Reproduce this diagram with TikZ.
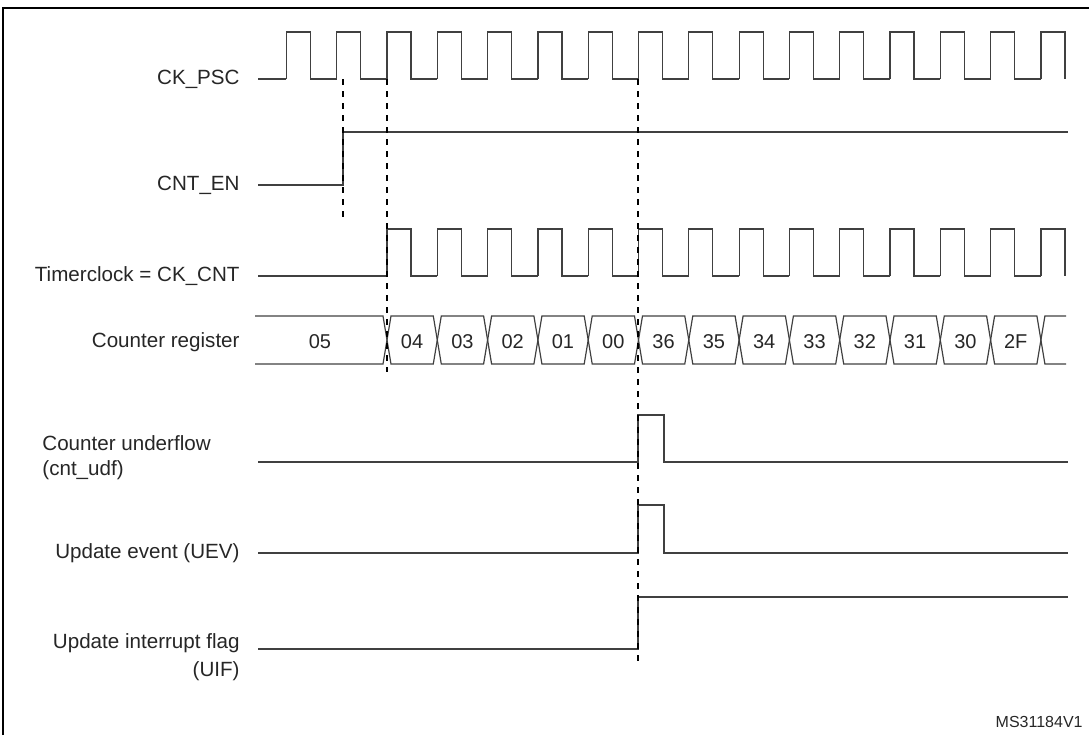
\documentclass[tikz,border=0pt]{standalone}
\usepackage{fontspec}
\setmainfont{Liberation Sans}
\begin{document}
\begin{tikzpicture}[x=0.5pt,y=-0.5pt,
    sig/.style={line width=0.6pt,black!75},
    guide/.style={dashed,line width=0.6pt,black},
    lbl/.style={font=\fontsize{10.3}{12}\selectfont,inner sep=0pt,text=black!85},
    val/.style={font=\fontsize{10}{12}\selectfont,inner sep=0pt,text=black!85}]
    \useasboundingbox (0,0) rectangle (1089,735);
    \draw[line width=1pt] (3,735) -- (3,8) -- (1089,8);

    % labels
    \node[lbl,anchor=east] (psc) at (240,79) {CK\_PSC};
    \node[lbl,anchor=east] (en) at (240,185) {CNT\_EN};
    \node[lbl,anchor=east] (cnt) at (240,276) {Timerclock = CK\_CNT};
    \node[lbl,anchor=east] (reg) at (240,342) {Counter register};
    \node[lbl,anchor=west] (udf) at (42,443) {Counter underflow};
    \node[lbl,anchor=west] (udfb) at (42,470) {(cnt\_udf)};
    \node[lbl,anchor=east] (uev) at (240,553) {Update event (UEV)};
    \node[lbl,anchor=east] (uif) at (240,643) {Update interrupt flag};
    \node[lbl,anchor=east] (uifb) at (240,671) {(UIF)};
    \node[lbl,anchor=east,font=\fontsize{8}{9}\selectfont] (ref) at (1083,722) {MS31184V1};

    % CK_PSC
    \draw[sig] (258,79) -- ({387-2*50.3},79);
    \foreach \k in {-2,...,13}{
        \pgfmathsetmacro\a{387+50.3*\k}
        \draw[sig] (\a,79) -- (\a,32) -- (\a+24,32) -- (\a+24,79)
            \ifnum\k<13 -- (\a+50.3,79)\fi;
    }
    % CNT_EN
    \draw[sig] (258,185) -- (343,185) -- (343,132) -- (1068,132);
    % CK_CNT
    \draw[sig] (258,276) -- (387,276);
    \foreach \k in {0,...,13}{
        \pgfmathsetmacro\a{387+50.3*\k}
        \draw[sig] (\a,276) -- (\a,229) -- (\a+24,229) -- (\a+24,276)
            \ifnum\k<13 -- (\a+50.3,276)\fi;
    }
    % Counter register
    \draw[sig] (255,316) -- (383,316) -- (387,340) -- (383,364) -- (255,364);
    \node[val] (v05) at (320,342) {05};
    \foreach \v [count=\i from 0] in {04,03,02,01,00,36,35,34,33,32,31,30,2F}{
        \pgfmathsetmacro\a{387+50.3*\i}
        \draw[sig] (\a,340) -- (\a+4,316) -- (\a+46.3,316) -- (\a+50.3,340)
            -- (\a+46.3,364) -- (\a+4,364) -- cycle;
        \node[val] (v\i) at (\a+25.1,342) {\v};
    }
    \pgfmathsetmacro\e{387+50.3*13}
    \draw[sig] (1066,316) -- (\e+4,316) -- (\e,340) -- (\e+4,364) -- (1066,364);

    % cnt_udf
    \draw[sig] (258,462) -- (638,462) -- (638,415) -- (664,415) -- (664,462) -- (1068,462);
    % UEV
    \draw[sig] (258,553) -- (638,553) -- (638,505) -- (664,505) -- (664,553) -- (1068,553);
    % UIF
    \draw[sig] (258,649) -- (638,649) -- (638,597) -- (1068,597);

    % guides
    \draw[guide] (343,79) -- (343,220);
    \draw[guide] (387,79) -- (387,372);
    \draw[guide] (638,79) -- (638,666);
\end{tikzpicture}
\end{document}
